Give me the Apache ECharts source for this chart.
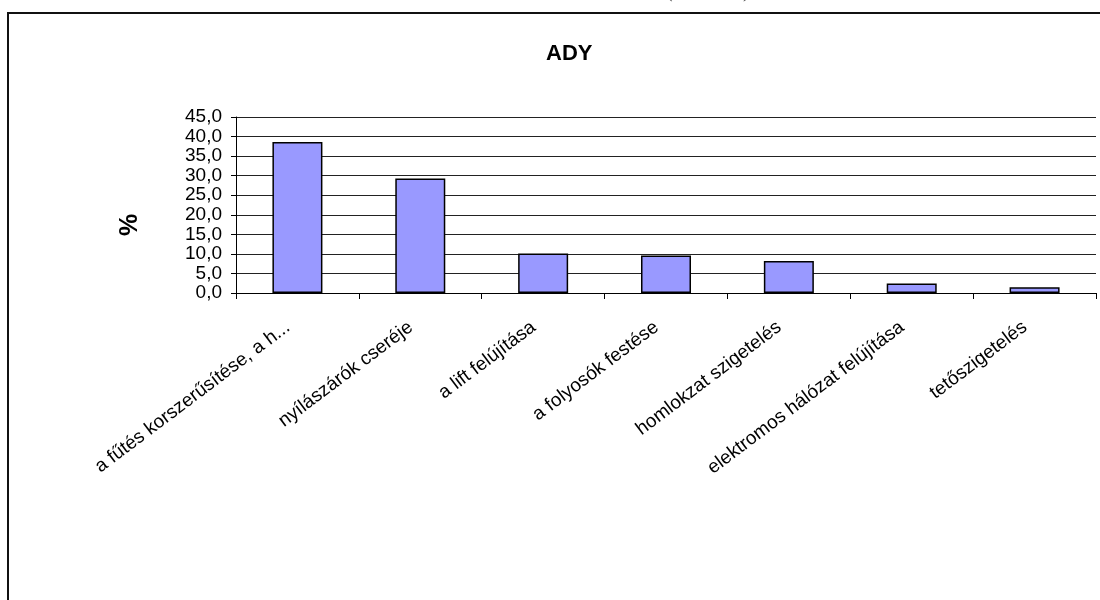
<!DOCTYPE html>
<html>
<head>
<meta charset="utf-8">
<script src="https://cdn.jsdelivr.net/npm/echarts@6/dist/echarts.min.js"></script>
<style>
html,body{margin:0;padding:0;background:#fff;}
#chart{width:1100px;height:600px;}
</style>
</head>
<body>
<div id="chart"></div>
<script>
var categories = ['a fűtés korszerűsítése, a h...', 'nyílászárók cseréje', 'a lift felújítása', 'a folyosók festése', 'homlokzat szigetelés', 'elektromos hálózat felújítása', 'tetőszigetelés'];
var values = [38.6, 29.3, 10.1, 9.6, 8.2, 2.4, 1.5];
var yMin = 0, yMax = 45, yStep = 5;

var chart = echarts.init(document.getElementById('chart'));
var font = 'Arial, "Liberation Sans", sans-serif';
var options = {
	animation: false,
	backgroundColor: '#fff',
	title: {
		text: 'ADY',
		left: 541,
		top: 38,
		textStyle: {fontFamily: font, fontSize: 22, fontWeight: 'bold', color: '#000'}
	},
	graphic: [
		{type: 'rect', shape: {x: 8, y: 13, width: 1200, height: 700}, style: {fill: 'none', stroke: '#111', lineWidth: 2}, silent: true},
		{type: 'text', x: 666, y: 2, style: {text: '(', font: '20px "Liberation Serif", serif', fill: '#555', verticalAlign: 'bottom'}},
		{type: 'text', x: 743, y: 2, style: {text: ')', font: '20px "Liberation Serif", serif', fill: '#555', verticalAlign: 'bottom'}},
		// felirat a tengely mellett, kicsit lejjebb mint a közepe
		{type: 'text', x: 130, y: 225, rotation: Math.PI / 2, style: {text: '%', font: 'bold 25px Arial, "Liberation Sans", sans-serif', fill: '#000', align: 'center', verticalAlign: 'middle'}}
	],
	grid: {left: 236, right: 4, top: 117, bottom: 307},
	xAxis: {
		type: 'category',
		data: categories,
		axisLine: {lineStyle: {color: '#000', width: 1}},
		axisTick: {show: true, length: 6, lineStyle: {color: '#000'}},
		axisLabel: {rotate: 37, margin: 25, interval: 0, padding: [0, 12, 0, 0], fontFamily: font, fontSize: 19, color: '#000'}
	},
	yAxis: {
		type: 'value',
		min: yMin,
		max: yMax,
		interval: yStep,
		axisLine: {show: true, lineStyle: {color: '#000', width: 1}},
		axisTick: {show: true, length: 5, lineStyle: {color: '#000'}},
		splitLine: {show: true, lineStyle: {color: '#222', width: 1}},
		axisLabel: {
			margin: 14,
			fontFamily: font, fontSize: 19, color: '#000',
			formatter: function(v){ return v.toFixed(1).replace('.', ','); }
		}
	},
	series: [{
		type: 'bar',
		data: values,
		barWidth: 50,
		itemStyle: {color: '#9999FF', borderColor: '#000', borderWidth: 1.5}
	}]
};
chart.setOption(options);
</script>
</body>
</html>
